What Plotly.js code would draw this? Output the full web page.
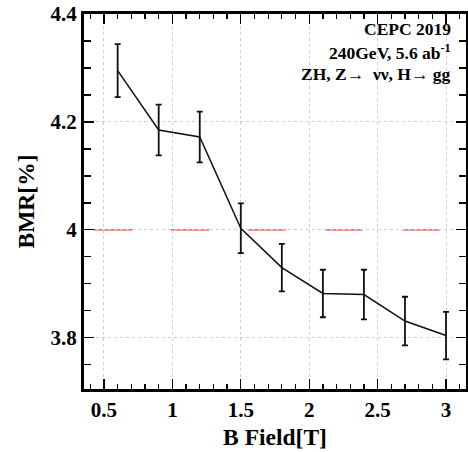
<!DOCTYPE html>
<html>
<head>
<meta charset="utf-8">
<script src="https://cdn.plot.ly/plotly-3.0.1.min.js"></script>
<style>html,body{margin:0;padding:0;background:#fff;}#plot{width:468px;height:452px;}</style>
</head>
<body>
<div id="plot"></div>
<script>
const bField = [0.6, 0.9, 1.2, 1.5, 1.8, 2.1, 2.4, 2.7, 3.0];
const bmr = [4.295, 4.185, 4.172, 4.003, 3.930, 3.882, 3.880, 3.831, 3.804];
const bmrErr = [0.049, 0.047, 0.047, 0.046, 0.044, 0.044, 0.046, 0.045, 0.044];
const refLevel = 4.0;
const xTickVals = [0.5, 1, 1.5, 2, 2.5, 3];
const xTickText = ['0.5', '1', '1.5', '2', '2.5', '3'];
const yTickVals = [3.8, 4.0, 4.2, 4.4];
const yTickText = ['3.8', '4', '4.2', '4.4'];
const labelLines = ['CEPC 2019', '240GeV, 5.6 ab<sup>-1</sup>', 'ZH, Z\u2192  \u03bd\u03bd, H\u2192 gg'];

const font = '"Liberation Serif", "Times New Roman", serif';

const trace = {
  x: bField, y: bmr, type: 'scatter', mode: 'lines',
  line: {color: '#111', width: 1.5},
  error_y: {type: 'data', array: bmrErr, visible: true, color: '#111', thickness: 1.8, width: 3},
  showlegend: false, hoverinfo: 'skip'
};

const layout = {
  width: 468, height: 452,
  margin: {l: 84, r: 2, t: 14, b: 63},
  paper_bgcolor: '#fff', plot_bgcolor: '#fff',
  font: {family: font, color: '#000'},
  xaxis: {
    range: [0.354, 3.146],
    tickvals: xTickVals, ticktext: xTickText.map(t => '<b>' + t + '</b>'),
    ticks: 'inside', ticklen: 10, tickwidth: 1.3, tickcolor: '#000',
    minor: {ticks: 'inside', dtick: 0.1, tick0: 0, ticklen: 5, tickwidth: 1.3, tickcolor: '#000', showgrid: false},
    showline: true, linecolor: '#000', linewidth: 3, mirror: 'ticks',
    showgrid: true, gridcolor: '#cfcfcf', griddash: 'dot', gridwidth: 1,
    zeroline: false,
    tickfont: {family: font, size: 21, color: '#000'},
    title: {text: '<b>B Field[T]</b>', font: {family: font, size: 23.5, color: '#000'}, standoff: 8}
  },
  yaxis: {
    range: [3.705, 4.4],
    tickvals: yTickVals, ticktext: yTickText.map(t => '<b>' + t + '</b>'),
    ticks: 'inside', ticklen: 10, tickwidth: 1.3, tickcolor: '#000',
    minor: {ticks: 'inside', dtick: 0.05, tick0: 0, ticklen: 7, tickwidth: 1.3, tickcolor: '#000', showgrid: false},
    showline: true, linecolor: '#000', linewidth: 3, mirror: 'ticks',
    showgrid: true, gridcolor: '#cfcfcf', griddash: 'dot', gridwidth: 1,
    zeroline: false,
    tickfont: {family: font, size: 21, color: '#000'},
    title: {text: '<b>BMR[%]</b>', font: {family: font, size: 23.5, color: '#000'}, standoff: 10}
  },
  shapes: [{
    type: 'line', xref: 'x', yref: 'y', x0: 0.427, x1: 3.146, y0: refLevel, y1: refLevel,
    line: {color: '#e03a3a', width: 1.2, dash: '38px,39px'}, layer: 'below'
  }],
  annotations: [
    {text: '<b>' + labelLines[0] + '</b>', xref: 'paper', yref: 'paper', x: 0.967, y: 0.928, xanchor: 'right', yanchor: 'bottom', showarrow: false, font: {family: font, size: 17.5, color: '#000'}},
    {text: '<b>' + labelLines[1] + '</b>', xref: 'paper', yref: 'paper', x: 0.967, y: 0.864, xanchor: 'right', yanchor: 'bottom', showarrow: false, font: {family: font, size: 17.5, color: '#000'}},
    {text: '<b>' + labelLines[2] + '</b>', xref: 'paper', yref: 'paper', x: 0.967, y: 0.808, xanchor: 'right', yanchor: 'bottom', showarrow: false, font: {family: font, size: 17.5, color: '#000'}}
  ]
};

Plotly.newPlot('plot', [trace], layout, {displayModeBar: false, staticPlot: true});
</script>
</body>
</html>
